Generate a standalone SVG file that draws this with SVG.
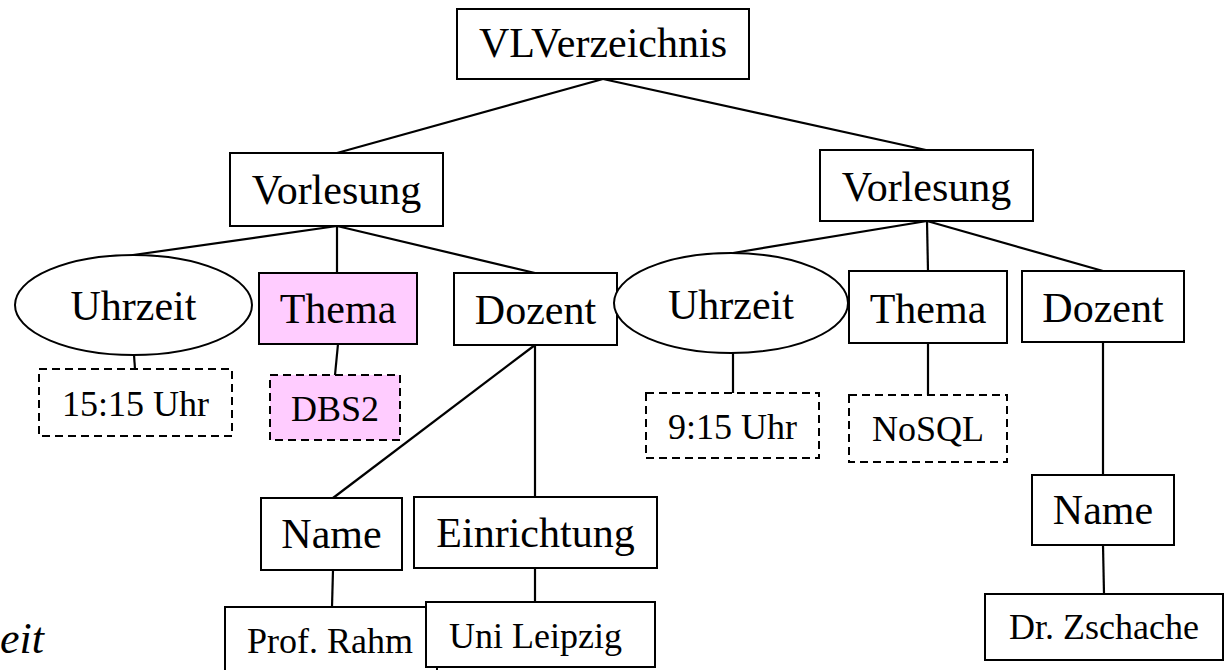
<svg xmlns="http://www.w3.org/2000/svg" width="1230" height="670" viewBox="0 0 1230 670" font-family="'Liberation Serif', 'Times New Roman', Times, 'DejaVu Serif', serif">
<style>
  .n { fill: #ffffff; stroke: #000000; stroke-width: 2; }
  .p { fill: #ffccff; stroke: #000000; stroke-width: 2; }
  .d { stroke-dasharray: 8 5; }
  .c line { stroke: #000000; stroke-width: 2.2; }
  text { font-family: 'Liberation Serif', 'Times New Roman', Times, 'DejaVu Serif', serif; fill: #000000; text-anchor: middle; }
  .l { font-size: 42px; }
  .s { font-size: 36px; }
</style>
<rect x="0" y="0" width="1230" height="670" fill="#ffffff"/>
<g id="connectors" class="c">
  <line x1="603" y1="79" x2="337" y2="153"/>
  <line x1="603" y1="79" x2="926" y2="150"/>
  <line x1="337" y1="226" x2="133" y2="255"/>
  <line x1="337" y1="226" x2="337" y2="273"/>
  <line x1="337" y1="226" x2="535" y2="273"/>
  <line x1="927" y1="221" x2="733" y2="253"/>
  <line x1="927" y1="221" x2="928" y2="271"/>
  <line x1="927" y1="221" x2="1103" y2="271"/>
  <line x1="134" y1="355" x2="135" y2="369"/>
  <line x1="338" y1="344" x2="335" y2="375"/>
  <line x1="535" y1="345" x2="333" y2="498"/>
  <line x1="535" y1="345" x2="535" y2="497"/>
  <line x1="733" y1="353" x2="733" y2="393"/>
  <line x1="928" y1="343" x2="928" y2="395"/>
  <line x1="1103" y1="342" x2="1103" y2="475"/>
  <line x1="333" y1="570" x2="332" y2="607"/>
  <line x1="535" y1="568" x2="535" y2="602"/>
  <line x1="1103" y1="545" x2="1104" y2="594"/>
</g>
<g id="vlverzeichnis"><rect class="n" x="457" y="9" width="292" height="70"/><text class="l" x="603" y="57">VLVerzeichnis</text></g>
<g id="vorlesung1"><rect class="n" x="230" y="153" width="213" height="73"/><text class="l" x="336.5" y="204">Vorlesung</text></g>
<g id="vorlesung2"><rect class="n" x="820" y="150" width="213" height="71"/><text class="l" x="926.5" y="201">Vorlesung</text></g>
<g id="uhrzeit1"><ellipse class="n" cx="133.5" cy="305" rx="118.5" ry="50"/><text class="l" x="133.5" y="320">Uhrzeit</text></g>
<g id="thema1"><rect class="p" x="259" y="273" width="158" height="71"/><text class="l" x="338" y="323">Thema</text></g>
<g id="dozent1"><rect class="n" x="454" y="273" width="163" height="72"/><text class="l" x="535.5" y="324">Dozent</text></g>
<g id="uhrzeit2"><ellipse class="n" cx="731" cy="303" rx="117" ry="50"/><text class="l" x="731" y="319">Uhrzeit</text></g>
<g id="thema2"><rect class="n" x="849" y="271" width="158" height="72"/><text class="l" x="928" y="323">Thema</text></g>
<g id="dozent2"><rect class="n" x="1022" y="271" width="162" height="71"/><text class="l" x="1103" y="322">Dozent</text></g>
<g id="uhr1515"><rect class="n d" x="39" y="369" width="193" height="67"/><text class="s" x="135.5" y="416">15:15 Uhr</text></g>
<g id="dbs2"><rect class="p d" x="270" y="375" width="130" height="65"/><text class="s" x="335" y="421">DBS2</text></g>
<g id="uhr915"><rect class="n d" x="646" y="393" width="173" height="65"/><text class="s" x="732.5" y="439">9:15 Uhr</text></g>
<g id="nosql"><rect class="n d" x="849" y="395" width="158" height="67"/><text class="s" x="928" y="441">NoSQL</text></g>
<g id="name1"><rect class="n" x="261" y="498" width="141" height="72"/><text class="l" x="331.5" y="548">Name</text></g>
<g id="einrichtung"><rect class="n" x="414" y="497" width="243" height="71"/><text class="l" x="535.5" y="547">Einrichtung</text></g>
<g id="name2"><rect class="n" x="1032" y="475" width="142" height="70"/><text class="l" x="1103" y="524">Name</text></g>
<g id="profrahm"><rect class="n" x="225" y="607" width="212" height="70"/><text class="s" x="330" y="653">Prof. Rahm</text></g>
<g id="unileipzig"><rect class="n" x="426" y="602" width="229" height="65"/><text class="s" x="535.5" y="648">Uni Leipzig</text></g>
<g id="zschache"><rect class="n" x="985" y="594" width="238" height="66"/><text class="s" x="1104" y="639">Dr. Zschache</text></g>
<text x="44" y="653" style="font-size:44px; font-style:italic; text-anchor:end;">eit</text>
</svg>
